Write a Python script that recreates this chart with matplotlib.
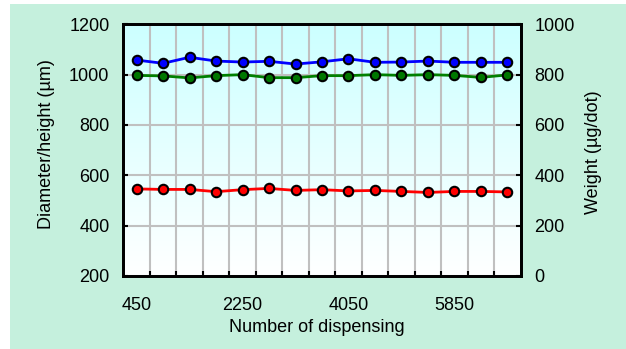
import numpy as np
import matplotlib
matplotlib.use("Agg")
import matplotlib.pyplot as plt
from matplotlib.patches import Rectangle

plt.rcParams['font.family'] = ['Liberation Sans', 'DejaVu Sans']

# 데이터
dispensing = [450, 900, 1350, 1800, 2250, 2700, 3150, 3600, 4050, 4500,
              4950, 5400, 5850, 6300, 6750]
diameter = [1058, 1045, 1069, 1054, 1050, 1053, 1042, 1051, 1063, 1049,
            1050, 1054, 1049, 1049, 1049]
height = [997, 995, 987, 996, 1000, 988, 988, 996, 996, 1000,
          997, 1000, 997, 989, 999]
weight = [346, 344, 344, 335, 343, 348, 340, 343, 338, 340,
          336, 332, 336, 336, 334]
label_every = 4

FS = 13
W, H = 626, 349
fig = plt.figure(figsize=(W / 100, H / 100), dpi=100)
fig.patch.set_facecolor('white')
# 배경 (민트색)
bg = Rectangle((10 / W, 0), 1 - 10 / W, 1 - 4 / H, transform=fig.transFigure,
               facecolor='#c5f0dd', edgecolor='none', zorder=-10)
fig.add_artist(bg)

left, right, top, bottom = 123.3, 520.7, 24.3, 276
ax = fig.add_axes([left / W, 1 - bottom / H, (right - left) / W, (bottom - top) / H])
ax.set_facecolor('none')

# 그라데이션 배경
grad = np.linspace(0, 1, 256).reshape(-1, 1)
cmap = matplotlib.colors.LinearSegmentedColormap.from_list('g', ['#ccffff', '#ffffff'])
ax.imshow(grad, cmap=cmap, extent=[0, 1, 0, 1], transform=ax.transAxes,
          aspect='auto', zorder=0)

x = np.arange(len(dispensing))
ax.set_xlim(-0.5, len(dispensing) - 0.5)
ax.set_ylim(200, 1200)

ax.set_xticks(x[::label_every])
ax.set_xticklabels([str(v) for v in dispensing[::label_every]])
ax.set_xticks(x[:-1] + 0.5, minor=True)
ax.set_yticks([200, 400, 600, 800, 1000, 1200])

ax.grid(True, which='minor', axis='x', color='#c0c0c0', lw=1.5, zorder=1)
ax.grid(True, which='major', axis='y', color='#c0c0c0', lw=1.5, zorder=1)
ax.set_axisbelow(True)

ax.tick_params(axis='x', which='major', length=0, pad=15, labelsize=FS)
ax.tick_params(axis='x', which='minor', direction='in', length=3.5, width=1.5)
ax.tick_params(axis='y', direction='in', length=3.5, width=1.5, pad=10, labelsize=FS)

for s in ax.spines.values():
    s.set_linewidth(2)

mk = dict(marker='o', markersize=6.8, markeredgecolor='black', markeredgewidth=1.5, zorder=3)
ax.plot(x, height, color='#008000', lw=2, markerfacecolor='#007700', **mk)
ax.plot(x, diameter, color='#0000ff', lw=2, markerfacecolor='#0000ff', **mk)

ax2 = ax.twinx()
ax2.set_ylim(0, 1000)
ax2.set_yticks([0, 200, 400, 600, 800, 1000])
ax2.tick_params(axis='y', direction='in', length=3.5, width=1.5, pad=10, labelsize=FS)
for s in ax2.spines.values():
    s.set_linewidth(2)
ax2.plot(x, weight, color='#ff0000', lw=2, markerfacecolor='#ff0000', **mk)

fig.text(47 / W, 1 - 144 / H, 'Diameter/height (µm)', rotation=90,
         ha='center', va='center', fontsize=FS)
fig.text(593 / W, 1 - 152 / H, 'Weight (µg/dot)', rotation=90,
         ha='center', va='center', fontsize=FS)
fig.text(317 / W, 1 - 328 / H, 'Number of dispensing',
         ha='center', va='center', fontsize=FS)

fig.savefig('out.png', dpi=100)
